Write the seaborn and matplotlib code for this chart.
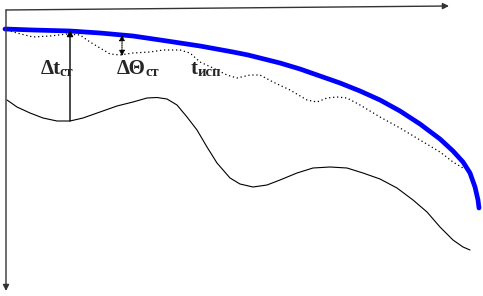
import matplotlib
matplotlib.use("Agg")
import matplotlib.pyplot as plt
import seaborn as sns

# Curves (horizontal position, vertical depth)
wall_x = [5, 33, 70, 100, 133, 167, 200, 233, 248, 260, 280, 300, 320, 340, 360, 380, 400, 420,
          440, 453, 463, 470, 475, 478, 479]
wall_y = [29, 30, 31, 33, 36, 41, 46, 52, 55, 58, 63, 69, 76, 83, 91, 100, 111, 124,
          139, 151, 162, 173, 187, 200, 208]

isp_x = [7, 17, 33, 50, 67, 80, 90, 100, 110, 120, 133, 150, 163, 180, 190, 200, 213, 227, 237, 250,
         260, 273, 290, 307, 317, 327, 337, 347, 360, 380, 400, 420, 440, 453, 463]
isp_y = [30, 33, 37, 36, 34, 35, 42, 48, 54, 55, 53, 52, 50, 50, 53, 62, 68, 75, 78, 75,
         75, 82, 90, 100, 102, 98, 97, 98, 105, 117, 128, 140, 152, 162, 168]

low_x = [7, 17, 30, 43, 57, 70, 83, 100, 117, 133, 147, 157, 167, 177, 187, 197, 207, 217, 230, 240,
         253, 267, 280, 297, 313, 330, 347, 363, 380, 397, 413, 427, 440, 453, 463, 470]
low_y = [100, 107, 113, 118, 121, 121, 118, 112, 106, 102, 98, 97.5, 99, 105, 117, 130, 147, 163, 178, 184,
         187, 185, 180, 173, 168, 167, 168, 173, 179, 188, 200, 212, 227, 240, 247, 250]

labels_main = ["Δt", "ΔΘ", "t"]
labels_sub = ["ст", "ст", "исп"]

sns.set_style("white")
fig = plt.figure(figsize=(4.83, 2.96), dpi=100)
ax = fig.add_axes([0, 0, 1, 1])
ax.set_xlim(0, 483)
ax.set_ylim(296, 0)
ax.axis("off")

sns.lineplot(x=low_x, y=low_y, sort=False, color="black", lw=0.8, ax=ax)
sns.lineplot(x=isp_x, y=isp_y, sort=False, color="black", lw=0.9, linestyle=(0, (1, 2.2)), ax=ax)
sns.lineplot(x=wall_x, y=wall_y, sort=False, color="#0000ff", lw=3.4, ax=ax)

# coordinate axes with arrows
ap = dict(arrowstyle="-|>", color="#333333", lw=1.0, mutation_scale=9, shrinkA=0, shrinkB=0)
ax.annotate("", xy=(449, 6), xytext=(6, 10), arrowprops=ap)
ax.annotate("", xy=(6, 291), xytext=(6, 10), arrowprops=ap)

# dimension arrows
ax.annotate("", xy=(70, 30), xytext=(70, 121),
            arrowprops=dict(arrowstyle="-|>", color="black", lw=1.0, mutation_scale=9, shrinkA=0, shrinkB=0))
ax.annotate("", xy=(122, 35), xytext=(122, 56),
            arrowprops=dict(arrowstyle="<|-|>", color="black", lw=0.8, linestyle=(0, (1, 1)),
                            mutation_scale=8, shrinkA=0, shrinkB=0))

fam = ["Liberation Serif", "DejaVu Serif"]
main_pos = [(41, 74), (117, 74), (191, 74)]
sub_pos = [(60, 76), (146, 76), (198, 76)]
for (mx, my), (sx, sy), m, s in zip(main_pos, sub_pos, labels_main, labels_sub):
    ax.text(mx, my, m, fontsize=15, fontweight="bold", family=fam, ha="left", va="baseline")
    ax.text(sx, sy, s, fontsize=10.5, fontweight="bold", family=fam, ha="left", va="baseline")

fig.savefig("out.png", dpi=100)
